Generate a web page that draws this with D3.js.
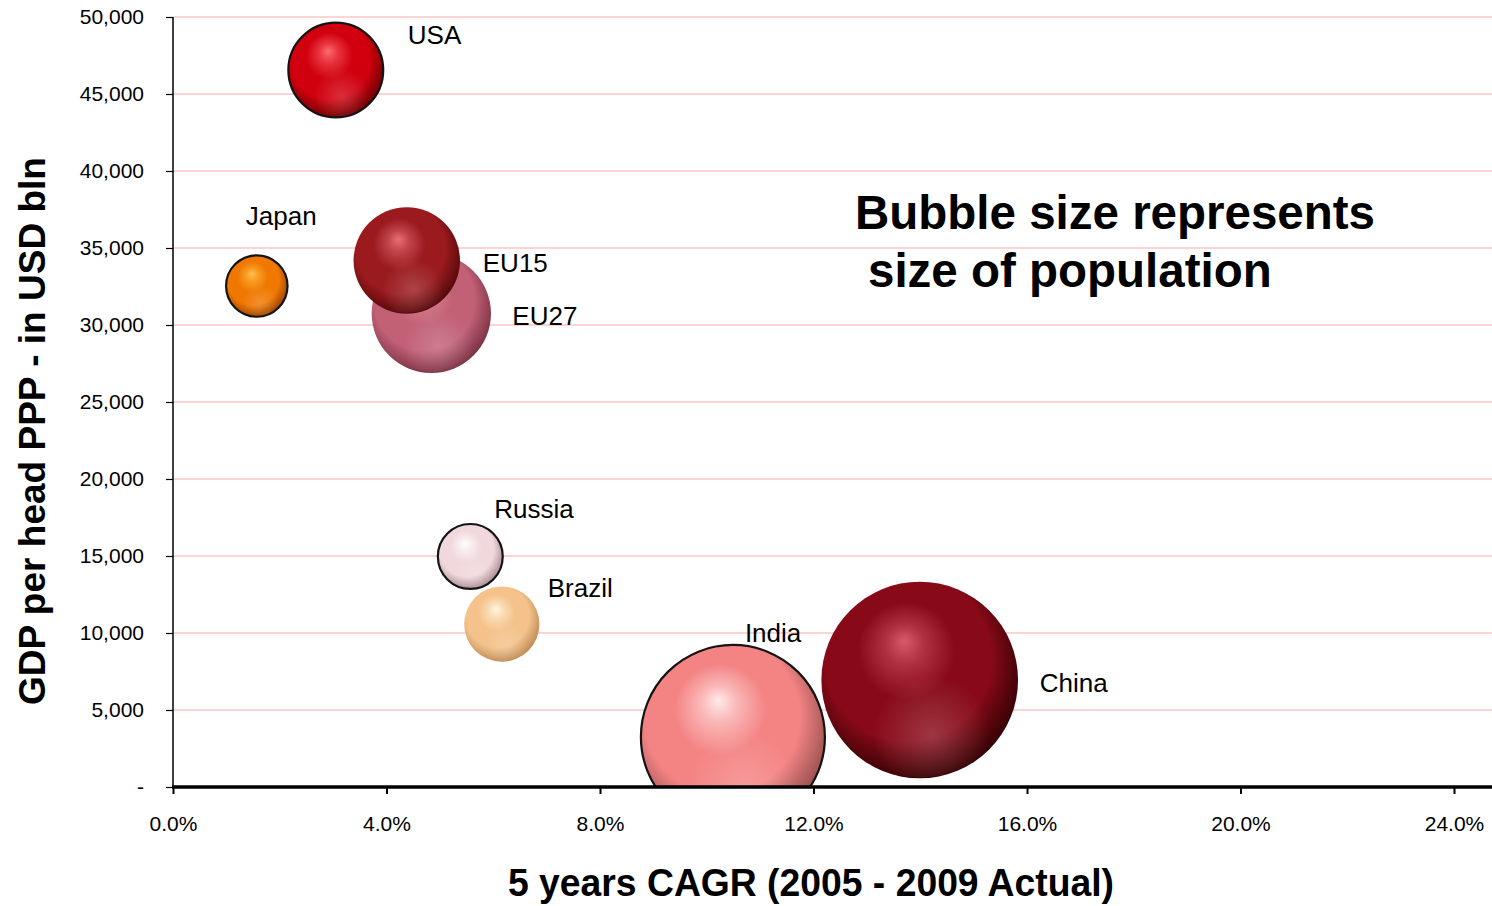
<!DOCTYPE html>
<html>
<head>
<meta charset="utf-8">
<script src="https://cdn.jsdelivr.net/npm/d3@7"></script>
<style>
  body { margin: 0; background: #fff; }
  svg { display: block; font-family: "Liberation Sans", Arial, Helvetica, sans-serif; }
</style>
</head>
<body>
<svg id="chart" width="1492" height="906"></svg>
<script>
// ---- data (drawing order: EU27 sits beneath EU15) ----
const countries  = ["USA", "Japan", "EU27", "EU15", "Brazil", "Russia", "India", "China"];
const cagr       = [0.0305, 0.0157, 0.0484, 0.0438, 0.0616, 0.0557, 0.1049, 0.1399];
const gdpPerHead = [46560, 32530, 30750, 34190, 10580, 14970, 3250, 6950];
const population = [310, 130, 490, 390, 195, 145, 1166, 1331]; // millions

const xTicks = [0, 0.04, 0.08, 0.12, 0.16, 0.20, 0.24];
const yTicks = [0, 5000, 10000, 15000, 20000, 25000, 30000, 35000, 40000, 45000, 50000];

// ---- presentation ----
const palette = {
  USA:    { hi: "#ff6a72", base: "#d0000e", dark: "#5a0000", outline: true },
  Japan:  { hi: "#ffc24a", base: "#f07800", dark: "#8a3800", outline: true },
  EU27:   { hi: "#ec9aa6", base: "#c26076", dark: "#6e2a3a", outline: false },
  EU15:   { hi: "#e86e76", base: "#9a1a1e", dark: "#480606", outline: false },
  Brazil: { hi: "#fff6e0", base: "#f4c28a", dark: "#b5824c", outline: false },
  Russia: { hi: "#ffffff", base: "#f0d8dc", dark: "#9c7c84", outline: true },
  India:  { hi: "#ffeaea", base: "#f48484", dark: "#884646", outline: true },
  China:  { hi: "#d85a68", base: "#880a18", dark: "#260000", outline: false }
};
// label anchor offsets from bubble centre (text start, baseline)
const labelOffset = {
  USA: [72, -26], Japan: [-11, -61], EU27: [81, 12], EU15: [76, 12],
  Brazil: [46, -27], Russia: [24, -38], India: [12, -95], China: [120, 12]
};

const svg = d3.select("#chart");
const plotLeft = 173, plotBottom = 787, plotTop = 17;
const plotRight = 1492;

const x = d3.scaleLinear().domain([0, 0.25]).range([plotLeft, plotLeft + 1281 * 25 / 24]);
const y = d3.scaleLinear().domain([0, 50000]).range([plotBottom, plotTop]);
const r = d3.scaleSqrt().domain([0, 1331]).range([0, 98.3]);

const rows = countries.map((c, i) => ({
  name: c, cagr: cagr[i], gdp: gdpPerHead[i], pop: population[i]
}));

// ---- gradients ----
const defs = svg.append("defs");
rows.forEach((d, i) => {
  const p = palette[d.name];
  const g = defs.append("radialGradient")
    .attr("id", "ball" + i)
    .attr("cx", 0.45).attr("cy", 0.43).attr("r", 0.62)
    .attr("fx", 0.42).attr("fy", 0.3);
  g.append("stop").attr("offset", 0).attr("stop-color", p.hi);
  g.append("stop").attr("offset", 0.16).attr("stop-color", d3.interpolateRgb(p.hi, p.base)(0.5));
  g.append("stop").attr("offset", 0.4).attr("stop-color", p.base);
  g.append("stop").attr("offset", 0.68).attr("stop-color", p.base);
  g.append("stop").attr("offset", 1).attr("stop-color", p.dark);
});
// soft reflection in the lower half of every ball
const refl = defs.append("radialGradient")
  .attr("id", "reflect").attr("cx", 0.56).attr("cy", 0.78).attr("r", 0.3);
refl.append("stop").attr("offset", 0).attr("stop-color", "#fff").attr("stop-opacity", 0.18);
refl.append("stop").attr("offset", 1).attr("stop-color", "#fff").attr("stop-opacity", 0);

defs.append("clipPath").attr("id", "plotClip")
  .append("rect").attr("x", plotLeft).attr("y", 0)
  .attr("width", plotRight - plotLeft).attr("height", plotBottom);

// ---- gridlines ----
svg.append("g").selectAll("line")
  .data(yTicks.filter(t => t > 0))
  .join("line")
  .attr("x1", plotLeft).attr("x2", plotRight)
  .attr("y1", d => y(d)).attr("y2", d => y(d))
  .attr("stroke", "#fcd4d4").attr("stroke-width", 2);

// ---- bubbles ----
const balls = svg.append("g").attr("clip-path", "url(#plotClip)");
rows.forEach((d, i) => {
  const p = palette[d.name];
  const cx = x(d.cagr), cy = y(d.gdp), rr = r(d.pop);
  balls.append("circle")
    .attr("cx", cx).attr("cy", cy).attr("r", rr)
    .attr("fill", `url(#ball${i})`)
    .attr("stroke", p.outline ? "#141414" : "none")
    .attr("stroke-width", p.outline ? 2.2 : 0);
  balls.append("circle")
    .attr("cx", cx).attr("cy", cy).attr("r", rr - 1)
    .attr("fill", "url(#reflect)");
});

// ---- labels ----
svg.append("g").selectAll("text")
  .data(rows)
  .join("text")
  .attr("x", d => x(d.cagr) + labelOffset[d.name][0])
  .attr("y", d => y(d.gdp) + labelOffset[d.name][1])
  .attr("font-size", 26)
  .attr("fill", "#000")
  .text(d => d.name);

// ---- axes ----
const yAxis = svg.append("g")
  .attr("transform", `translate(${plotLeft},0)`)
  .call(d3.axisLeft(y).tickValues(yTicks).tickSize(7).tickPadding(22)
    .tickFormat(d => d === 0 ? "-" : d3.format(",")(d)));
yAxis.select(".domain").remove();
yAxis.selectAll("line").attr("stroke", "#000").attr("stroke-width", 1.2);
yAxis.selectAll("text").attr("font-size", 21).attr("fill", "#000")
  .attr("font-family", "\"Liberation Sans\", Arial, sans-serif");

svg.append("line")
  .attr("x1", plotLeft).attr("x2", plotLeft).attr("y1", plotTop).attr("y2", plotBottom)
  .attr("stroke", "#000").attr("stroke-width", 1.5);

const xAxis = svg.append("g")
  .attr("transform", `translate(0,${plotBottom})`)
  .call(d3.axisBottom(x).tickValues(xTicks).tickSize(7).tickFormat(d3.format(".1%")));
xAxis.select(".domain").remove();
xAxis.selectAll("line").attr("stroke", "#000").attr("stroke-width", 2);
xAxis.selectAll("text").attr("font-size", 21).attr("fill", "#000")
  .attr("y", 44).attr("dy", 0)
  .attr("font-family", "\"Liberation Sans\", Arial, sans-serif");

svg.append("line")
  .attr("x1", plotLeft - 1).attr("x2", plotRight).attr("y1", plotBottom).attr("y2", plotBottom)
  .attr("stroke", "#000").attr("stroke-width", 3.5);

// ---- axis titles ----
svg.append("text")
  .attr("transform", "translate(45,431) rotate(-90)")
  .attr("text-anchor", "middle")
  .attr("font-size", 36.5).attr("font-weight", "bold")
  .attr("textLength", 548).attr("lengthAdjust", "spacingAndGlyphs")
  .text("GDP per head PPP - in USD bln");

svg.append("text")
  .attr("x", 508).attr("y", 896)
  .attr("font-size", 39).attr("font-weight", "bold")
  .attr("textLength", 606).attr("lengthAdjust", "spacingAndGlyphs")
  .text("5 years CAGR (2005 - 2009 Actual)");

// ---- note ----
const note = svg.append("g").attr("font-size", 47.5).attr("font-weight", "bold");
note.append("text").attr("x", 855).attr("y", 229).text("Bubble size represents");
note.append("text").attr("x", 868).attr("y", 287).text("size of population");
</script>
</body>
</html>
